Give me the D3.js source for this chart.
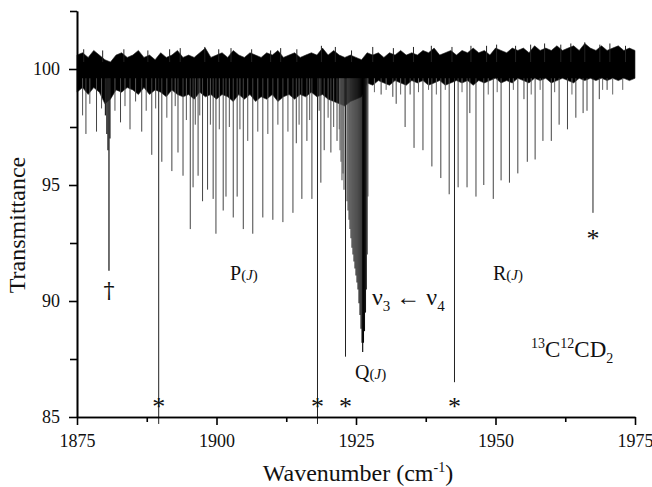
<!DOCTYPE html>
<html>
<head>
<meta charset="utf-8">
<script src="https://cdn.jsdelivr.net/npm/d3@7"></script>
<style>
  body { margin: 0; background: #fff; }
  text { font-family: "Liberation Serif", "Times New Roman", serif; fill: #111; }
</style>
</head>
<body>
<div id="chart"></div>
<script>

// axis ticks
var xTicks = [1875, 1900, 1925, 1950, 1975];
var xMinorTicks = [1887.5, 1912.5, 1937.5, 1962.5];
var yTicks = [85, 90, 95, 100];
var yMinorTicks = [87.5, 92.5, 97.5, 102.5];

// noise band envelope, read every 1 cm-1 (upper and lower transmittance)
var bandWn = [1875, 1876, 1877, 1878, 1879, 1880, 1881, 1882, 1883, 1884,
  1885, 1886, 1887, 1888, 1889, 1890, 1891, 1892, 1893, 1894,
  1895, 1896, 1897, 1898, 1899, 1900, 1901, 1902, 1903, 1904,
  1905, 1906, 1907, 1908, 1909, 1910, 1911, 1912, 1913, 1914,
  1915, 1916, 1917, 1918, 1919, 1920, 1921, 1922, 1923, 1924,
  1925, 1926, 1927, 1928, 1929, 1930, 1931, 1932, 1933, 1934,
  1935, 1936, 1937, 1938, 1939, 1940, 1941, 1942, 1943, 1944,
  1945, 1946, 1947, 1948, 1949, 1950, 1951, 1952, 1953, 1954,
  1955, 1956, 1957, 1958, 1959, 1960, 1961, 1962, 1963, 1964,
  1965, 1966, 1967, 1968, 1969, 1970, 1971, 1972, 1973, 1974, 1975];
var bandTop = [100.6, 100.7, 100.5, 100.8, 100.6, 100.4, 100.3, 100.6, 100.7, 100.5,
  100.6, 100.8, 100.5, 100.6, 100.4, 100.7, 100.5, 100.6, 100.8, 100.5,
  100.6, 100.5, 100.7, 100.9, 100.5, 100.6, 100.7, 100.5, 100.8, 100.6,
  100.5, 100.7, 100.6, 100.5, 100.7, 100.6, 100.8, 100.5, 100.6, 100.7,
  100.5, 100.6, 100.7, 100.6, 100.9, 100.6, 100.8, 100.6, 100.5, 100.6,
  100.5, 100.4, 100.7, 100.6, 100.7, 100.5, 100.7, 100.6, 100.8, 100.6,
  100.7, 100.6, 100.8, 100.7, 100.9, 100.6, 100.7, 100.8, 100.6, 100.8,
  100.7, 100.9, 100.7, 100.8, 100.6, 100.9, 100.8, 100.7, 100.9, 100.8,
  100.9, 100.7, 101.0, 100.8, 100.9, 100.8, 101.0, 100.8, 100.9, 101.0,
  100.8, 101.1, 100.9, 100.8, 101.0, 100.8, 100.9, 101.0, 100.8, 100.9, 100.8];
var bandBot = [99.0, 99.2, 98.9, 99.2, 99.0, 98.5, 98.7, 99.1, 99.0, 99.2,
  99.1, 98.9, 99.2, 98.9, 99.1, 99.0, 98.8, 99.1, 98.9, 98.8,
  98.9, 98.7, 99.0, 98.8, 98.9, 98.7, 98.9, 98.8, 98.6, 98.9,
  98.7, 98.9, 98.6, 98.8, 98.7, 98.9, 98.6, 98.8, 98.9, 98.7,
  98.9, 98.8, 99.0, 98.8, 98.9, 98.7, 98.6, 98.5, 98.4, 98.6,
  98.7, 98.8, 99.4, 99.3, 99.5, 99.4, 99.3, 99.5, 99.4, 99.3,
  99.5, 99.4, 99.5, 99.3, 99.4, 99.5, 99.3, 99.4, 99.5, 99.4,
  99.5, 99.3, 99.5, 99.4, 99.5, 99.6, 99.4, 99.5, 99.4, 99.6,
  99.5, 99.4, 99.6, 99.5, 99.6, 99.4, 99.5, 99.6, 99.5, 99.4,
  99.6, 99.5, 99.6, 99.5, 99.6, 99.5, 99.6, 99.5, 99.6, 99.5, 99.6];

// upward noise spikes [wn, T]
var spikesUp = [[1876.2, 100.85], [1879.6, 100.8], [1883.4, 100.85], [1887.7, 100.8], [1891.6, 100.85], [1893.5, 100.9], [1897.9, 100.95], [1900.4, 100.85], [1902.6, 100.9], [1906.3, 100.85], [1909.7, 100.8], [1911.5, 100.9], [1914.4, 100.85], [1918.8, 101.0], [1921.3, 100.95], [1924.2, 100.8], [1928.0, 100.95], [1931.7, 100.9], [1935.3, 100.95], [1938.5, 101.0], [1942.2, 100.95], [1945.6, 101.0], [1948.4, 101.0], [1950.2, 101.05], [1953.6, 101.0], [1956.3, 101.05], [1958.8, 101.1], [1961.7, 101.05], [1963.5, 101.1], [1966.0, 101.15], [1968.7, 101.05], [1970.5, 101.1], [1973.3, 101.0]];

// P branch lines [wn, T min]
var pLines = [[1876.6, 97.2], [1878.5, 97.3], [1882.8, 97.7], [1884.5, 97.4], [1886.6, 97.3], [1888.4, 96.3], [1890.2, 96.0], [1892.0, 95.6], [1893.1, 96.4], [1894.0, 95.4], [1895.3, 93.1], [1895.8, 94.9], [1896.7, 95.4], [1897.5, 94.3], [1898.4, 94.8], [1899.4, 94.4], [1899.9, 92.9], [1901.2, 93.9], [1901.7, 94.5], [1903.0, 93.6], [1903.7, 94.5], [1904.8, 93.1], [1906.5, 92.9], [1908.3, 93.6], [1910.1, 93.5], [1911.9, 93.4], [1913.7, 93.8], [1914.3, 96.8], [1915.3, 94.4], [1916.2, 96.9], [1917.1, 94.4], [1918.7, 95.1], [1919.3, 96.5], [1920.5, 96.4], [1921.6, 96.9]];

// weak lines in the P region
var pWeak = [[1876.0, 98.0], [1877.3, 98.5], [1879.4, 98.3], [1881.8, 98.2], [1883.6, 98.4], [1885.5, 98.6], [1887.4, 98.2], [1889.1, 98.3], [1891.1, 97.9], [1892.6, 98.4], [1894.6, 97.8], [1896.2, 97.6], [1897.0, 98.0], [1898.9, 97.6], [1900.5, 97.4], [1902.3, 97.5], [1904.2, 97.4], [1905.6, 96.9], [1907.4, 97.3], [1909.2, 97.2], [1911.0, 97.6], [1912.8, 97.3], [1914.8, 97.6], [1916.7, 97.8], [1918.4, 98.2], [1920.0, 97.9], [1921.0, 97.5], [1922.0, 97.4]];

// dagger feature near 1881
var daggerLines = [[1880.1, 98.0], [1880.35, 97.2], [1880.55, 96.5], [1880.73, 91.3], [1880.9, 97.0]];

// Q branch lines
var qLines = [[1922.13, 96.5], [1922.31, 96.0], [1922.49, 95.2], [1922.67, 95.5], [1922.85, 94.8], [1923.39, 94.3], [1923.57, 93.9], [1923.75, 93.5], [1923.92, 93.1], [1924.10, 92.7], [1924.28, 92.3], [1924.46, 92.0], [1924.64, 91.7], [1924.82, 91.4], [1925.00, 91.1], [1925.18, 90.8], [1925.36, 90.5], [1925.54, 89.9], [1925.72, 89.4], [1925.90, 88.8], [1926.08, 88.2], [1926.20, 87.8], [1926.34, 88.2], [1926.52, 88.7], [1926.70, 89.5], [1926.85, 90.5], [1927.00, 92.0], [1927.13, 94.5]];

// R branch lines
var rLines = [[1929.5, 98.9], [1931.6, 98.8], [1932.2, 98.5], [1933.8, 97.5], [1934.7, 98.9], [1935.4, 96.6], [1937.0, 96.5], [1938.6, 95.8], [1940.2, 95.3], [1941.7, 94.6], [1943.3, 94.9], [1944.9, 94.9], [1945.4, 98.1], [1946.5, 94.5], [1947.9, 95.0], [1949.6, 94.4], [1951.0, 95.2], [1952.5, 95.1], [1954.0, 95.5], [1955.1, 98.7], [1955.7, 96.0], [1957.1, 96.1], [1958.5, 96.9], [1960.0, 96.9], [1961.4, 97.6], [1962.9, 97.4], [1964.4, 97.9], [1965.7, 98.1], [1966.4, 98.2], [1968.6, 98.7], [1970.0, 99.1]];

var rWeak = [[1928.3, 99.0], [1930.4, 99.1], [1933.0, 98.9], [1936.2, 99.0], [1938.0, 99.1], [1939.4, 98.9], [1941.0, 99.1], [1944.0, 99.0], [1948.7, 98.9], [1950.3, 99.0], [1953.2, 99.1], [1956.4, 98.9], [1958.0, 99.1], [1960.6, 99.0], [1963.7, 98.9], [1969.2, 99.1], [1971.0, 98.9], [1972.8, 99.1]];

// lines marked with an asterisk [wn, T min, asterisk T]
var starLines = [[1889.64, 84.7, 85.6], [1918.10, 84.7, 85.6], [1923.12, 87.6, 85.6], [1942.65, 86.5, 85.6], [1967.47, 93.8, 92.85]];

var lineBase = 99.6;

var W = 652, H = 487;
var svg = d3.select("#chart").append("svg")
    .attr("width", W)
    .attr("height", H);

var x = d3.scaleLinear().domain([1875, 1975]).range([77, 635]);
var y = d3.scaleLinear().domain([85, 102.5]).range([417, 11]);

function drawLines(data, color, width) {
  svg.append("g")
    .selectAll("line")
    .data(data)
    .join("line")
      .attr("x1", function (d) { return x(d[0]); })
      .attr("x2", function (d) { return x(d[0]); })
      .attr("y1", y(lineBase))
      .attr("y2", function (d) { return y(d[1]); })
      .attr("stroke", color)
      .attr("stroke-width", width);
}

// noise band
var band = bandWn.map(function (w, i) { return [w, bandTop[i], bandBot[i]]; });
svg.append("path")
  .datum(band)
  .attr("fill", "#000")
  .attr("stroke", "#222")
  .attr("stroke-width", 0.6)
  .attr("d", d3.area()
    .x(function (d) { return x(d[0]); })
    .y0(function (d) { return y(d[2]); })
    .y1(function (d) { return y(d[1]); }));

svg.append("g")
  .selectAll("line")
  .data(spikesUp)
  .join("line")
    .attr("x1", function (d) { return x(d[0]); })
    .attr("x2", function (d) { return x(d[0]); })
    .attr("y1", y(100.3))
    .attr("y2", function (d) { return y(d[1]); })
    .attr("stroke", "#222")
    .attr("stroke-width", 1);

drawLines(pWeak, "#555", 1);
drawLines(rWeak, "#666", 1);
drawLines(pLines, "#444", 1);
drawLines(rLines, "#444", 1);
drawLines(daggerLines, "#222", 1.3);

// Q branch: deeper lines are drawn darker
var qShade = d3.scaleLinear().domain([96.5, 87.8]).range(["#666", "#000"]);
svg.append("g")
  .selectAll("line")
  .data(qLines)
  .join("line")
    .attr("x1", function (d) { return x(d[0]); })
    .attr("x2", function (d) { return x(d[0]); })
    .attr("y1", y(lineBase))
    .attr("y2", function (d) { return y(d[1]); })
    .attr("stroke", function (d) { return qShade(d[1]); })
    .attr("stroke-width", 1.1);

drawLines(starLines, "#222", 1);

// axes
svg.append("g")
  .attr("transform", "translate(0," + y(85) + ")")
  .call(d3.axisBottom(x).tickValues(xTicks).tickSize(8).tickSizeOuter(0).tickPadding(9).tickFormat(d3.format("d")));
svg.append("g")
  .attr("transform", "translate(0," + y(85) + ")")
  .call(d3.axisBottom(x).tickValues(xMinorTicks).tickSize(5).tickSizeOuter(0).tickFormat(""));

svg.append("g")
  .attr("transform", "translate(" + x(1875) + ",0)")
  .call(d3.axisLeft(y).tickValues(yTicks).tickSize(8).tickSizeOuter(0).tickPadding(9));
svg.append("g")
  .attr("transform", "translate(" + x(1875) + ",0)")
  .call(d3.axisLeft(y).tickValues(yMinorTicks).tickSize(7).tickSizeOuter(0).tickFormat(""));

svg.selectAll(".domain, .tick line").attr("stroke", "#000").attr("stroke-width", 1.6);
svg.selectAll(".tick text")
  .attr("font-family", "Liberation Serif")
  .style("font-size", "18px")
  .attr("fill", "#111");

// axis titles
svg.append("text")
  .attr("x", 358)
  .attr("y", 481)
  .attr("text-anchor", "middle")
  .style("font-size", "24px")
  .html('Wavenumber (cm<tspan dy="-9" font-size="14">-1</tspan><tspan dy="9">)</tspan>');

svg.append("text")
  .attr("transform", "translate(25,225) rotate(-90)")
  .attr("text-anchor", "middle")
  .style("font-size", "24px")
  .text("Transmittance");

// markers
svg.append("g")
  .selectAll("text")
  .data(starLines)
  .join("text")
    .attr("x", function (d) { return x(d[0]); })
    .attr("y", function (d) { return y(d[2]) + 12; })
    .attr("text-anchor", "middle")
    .style("font-size", "26px")
    .text("*");

svg.append("text")
  .attr("x", x(1880.73))
  .attr("y", 298)
  .attr("text-anchor", "middle")
  .style("font-size", "22px")
  .style("fill", "#111")
  .style("font-family", '"DejaVu Serif", serif')
  .text("\u2020");

// branch labels
function branch(label, px, py) {
  svg.append("text")
    .attr("x", px)
    .attr("y", py)
    .style("font-size", "20px")
    .html(label + '<tspan font-size="15">(</tspan><tspan font-size="15" font-style="italic">J</tspan><tspan font-size="15">)</tspan>');
}
branch("P", 230, 280);
branch("R", 493, 280);
branch("Q", 355, 379);

svg.append("text")
  .attr("x", 372)
  .attr("y", 305)
  .style("font-size", "24px")
  .html('\u03bd<tspan dy="6" font-size="15">3</tspan><tspan dy="-6"> \u2190 \u03bd</tspan><tspan dy="6" font-size="15">4</tspan>');

svg.append("text")
  .attr("x", 531)
  .attr("y", 357)
  .style("font-size", "23px")
  .html('<tspan dy="-9" font-size="14">13</tspan><tspan dy="9">C</tspan><tspan dy="-9" font-size="14">12</tspan><tspan dy="9">CD</tspan><tspan dy="6" font-size="14">2</tspan>');

</script>
</body>
</html>
